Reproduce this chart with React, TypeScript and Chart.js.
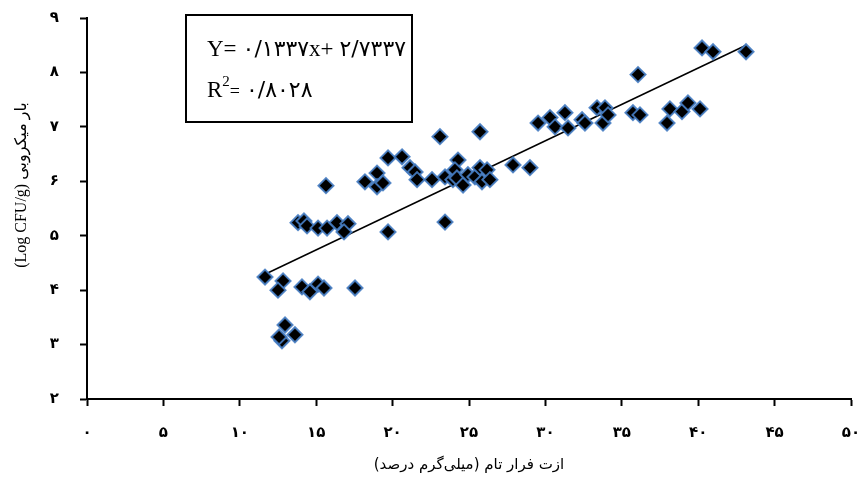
import React, { useEffect, useRef } from "react";
import { Chart, registerables } from "chart.js";

Chart.register(...registerables);

// Volatile nitrogen (mg %) vs microbial load (Log CFU/g)
const xValues: number[] = [
  11.65, 12.83, 12.5, 14.07, 14.59, 15.12, 15.51, 17.54, 12.96, 13.61,
  12.76, 12.57, 13.81, 14.2, 14.4, 15.12, 15.71, 16.36, 17.08, 16.82,
  15.64, 19.7, 20.62, 18.98, 18.19, 18.98, 19.37, 21.14, 21.47, 21.6,
  22.58, 23.43, 23.95, 24.28, 24.08, 23.43, 19.7, 23.1, 25.72, 24.21,
  24.61, 24.93, 25.39, 25.72, 25.85, 26.18, 26.37, 27.88, 28.99, 29.52,
  30.3, 30.63, 31.28, 31.48, 32.4, 32.59, 33.38, 33.77, 33.9, 34.1,
  35.73, 36.19, 36.06, 40.25, 40.97, 43.13, 37.96, 38.15, 38.94, 39.33,
  40.12,
];
const yValues: number[] = [
  4.24, 4.17, 4.0, 4.06, 3.97, 4.11, 4.04, 4.04, 3.36, 3.18,
  3.07, 3.14, 5.24, 5.27, 5.18, 5.14, 5.14, 5.24, 5.22, 5.07,
  5.92, 6.43, 6.45, 6.15, 5.99, 5.9, 5.97, 6.25, 6.17, 6.03,
  6.03, 6.08, 6.03, 6.39, 6.21, 5.25, 5.07, 6.82, 6.91, 6.06,
  5.93, 6.12, 6.08, 6.25, 5.99, 6.21, 6.03, 6.3, 6.25, 7.07,
  7.17, 7.0, 7.26, 6.98, 7.13, 7.07, 7.35, 7.07, 7.35, 7.22,
  7.26, 7.22, 7.96, 8.45, 8.38, 8.38, 7.07, 7.33, 7.28, 7.44,
  7.33,
];

// Linear trend line printed on the chart
const SLOPE = 0.1337;
const INTERCEPT = 2.7337;
const R_SQUARED = 0.8028;

const X_TICKS: number[] = [0, 5, 10, 15, 20, 25, 30, 35, 40, 45, 50];
const Y_TICKS: number[] = [2, 3, 4, 5, 6, 7, 8, 9];

const X_TITLE = "ازت فرار تام (میلی\u200cگرم درصد)";
const Y_TITLE = "(Log CFU/g) بار میکروبی";

const PERSIAN_DIGITS = "۰۱۲۳۴۵۶۷۸۹";
function toPersian(s: string): string {
  return s.replace(/[0-9]/g, (d) => PERSIAN_DIGITS[Number(d)]).replace(/\./g, "/");
}

const titlesPlugin = {
  id: "axisTitles",
  afterDraw(chart: any) {
    const { ctx, chartArea } = chart;
    ctx.save();
    ctx.fillStyle = "#000000";
    ctx.textBaseline = "middle";
    ctx.textAlign = "center";
    // x title (right-to-left text)
    ctx.direction = "rtl";
    ctx.font = '15px "DejaVu Sans"';
    ctx.fillText(X_TITLE, (chartArea.left + chartArea.right) / 2, chartArea.bottom + 66);
    // y title, rotated
    ctx.direction = "ltr";
    ctx.font = '16px "Liberation Serif", "DejaVu Sans"';
    ctx.translate(22, chartArea.top + 167);
    ctx.rotate(-Math.PI / 2);
    ctx.fillText(Y_TITLE, 0, 0);
    ctx.restore();
  },
};

const equationPlugin = {
  id: "equationBox",
  afterDraw(chart: any) {
    const { ctx, chartArea } = chart;
    const left = chartArea.left + 99;
    const top = chartArea.top - 3;
    const w = 226;
    const h = 107;
    ctx.save();
    ctx.direction = "ltr";
    ctx.fillStyle = "#ffffff";
    ctx.fillRect(left, top, w, h);
    ctx.strokeStyle = "#000000";
    ctx.lineWidth = 2;
    ctx.strokeRect(left, top, w, h);
    ctx.fillStyle = "#000000";
    ctx.textBaseline = "alphabetic";
    ctx.textAlign = "left";
    const serif = '"Liberation Serif", "Times New Roman", serif';
    const digitFont = `22px "DejaVu Sans", ${serif}`;
    // line 1
    let x = left + 21;
    const y1 = top + 41;
    ctx.font = `23px ${serif}`;
    ctx.fillText("Y=", x, y1);
    x += ctx.measureText("Y=").width + 6;
    ctx.font = digitFont;
    const slopeTxt = toPersian(SLOPE.toFixed(4));
    ctx.fillText(slopeTxt, x, y1);
    x += ctx.measureText(slopeTxt).width;
    ctx.font = `23px ${serif}`;
    ctx.fillText("x+", x, y1);
    x += ctx.measureText("x+").width + 6;
    ctx.font = digitFont;
    ctx.fillText(toPersian(INTERCEPT.toFixed(4)), x, y1);
    // line 2
    x = left + 21;
    const y2 = top + 82;
    ctx.font = `23px ${serif}`;
    ctx.fillText("R", x, y2);
    x += ctx.measureText("R").width;
    ctx.font = `15px ${serif}`;
    ctx.fillText("2", x, y2 - 11);
    x += ctx.measureText("2").width;
    ctx.font = `18px ${serif}`;
    ctx.fillText("=", x, y2);
    x += ctx.measureText("=").width + 6;
    ctx.font = digitFont;
    ctx.fillText(toPersian(R_SQUARED.toFixed(4)), x, y2);
    ctx.restore();
  },
};

export default function App() {
  const ref = useRef<HTMLCanvasElement | null>(null);

  useEffect(() => {
    document.body.style.margin = "0";
    const canvas = ref.current;
    if (!canvas) return;
    const points = xValues.map((x, i) => ({ x, y: yValues[i] }));
    const xMin = Math.min(...xValues);
    const xMax = Math.max(...xValues);
    const trend = [
      { x: xMin, y: SLOPE * xMin + INTERCEPT },
      { x: xMax, y: SLOPE * xMax + INTERCEPT },
    ];
    const chart = new Chart(canvas, {
      type: "scatter",
      data: {
        datasets: [
          {
            type: "line",
            data: trend,
            borderColor: "#000000",
            borderWidth: 1.5,
            pointRadius: 0,
            fill: false,
            order: 2,
          } as any,
          {
            data: points,
            pointStyle: "rectRot",
            pointRadius: 7.5,
            pointBackgroundColor: "#000000",
            pointBorderColor: "rgba(70,125,195,0.9)",
            pointBorderWidth: 2,
            order: 1,
          },
        ],
      },
      options: {
        animation: false,
        responsive: false,
        devicePixelRatio: 1,
        layout: { padding: { left: 0, right: 10, top: 18, bottom: 0 } },
        plugins: {
          legend: { display: false },
          tooltip: { enabled: false },
        },
        scales: {
          x: {
            type: "linear",
            min: 0,
            max: 50,
            afterBuildTicks: (scale: any) => {
              scale.ticks = X_TICKS.map((v) => ({ value: v }));
            },
            afterFit: (scale: any) => {
              scale.height = 79;
              scale.paddingLeft = 0;
              scale.paddingRight = 0;
            },
            ticks: {
              color: "#000000",
              padding: 18,
              maxRotation: 0,
              autoSkip: false,
              font: { family: '"DejaVu Sans"', size: 15, weight: "bold" },
              callback: (v: any) => toPersian(String(v)),
            },
            grid: {
              display: true,
              drawOnChartArea: false,
              drawTicks: true,
              tickLength: 7,
              tickWidth: 2,
              tickColor: "#000000",
            },
            border: { display: true, color: "#000000", width: 2 },
            title: { display: false },
          },
          y: {
            type: "linear",
            min: 2,
            max: 9,
            afterBuildTicks: (scale: any) => {
              scale.ticks = Y_TICKS.map((v) => ({ value: v }));
            },
            afterFit: (scale: any) => {
              scale.width = 87;
              scale.paddingTop = 0;
              scale.paddingBottom = 0;
            },
            ticks: {
              color: "#000000",
              padding: 21,
              autoSkip: false,
              font: { family: '"DejaVu Sans"', size: 15, weight: "bold" },
              callback: (v: any) => toPersian(String(v)),
            },
            grid: {
              display: true,
              drawOnChartArea: false,
              drawTicks: true,
              tickLength: 7,
              tickWidth: 2,
              tickColor: "#000000",
            },
            border: { display: true, color: "#000000", width: 2 },
            title: { display: false },
          },
        },
      },
      plugins: [equationPlugin, titlesPlugin],
    });
    return () => chart.destroy();
  }, []);

  return (
    <div style={{ width: 861, height: 478, background: "#ffffff" }}>
      <canvas ref={ref} width={861} height={478} style={{ display: "block" }} />
    </div>
  );
}
